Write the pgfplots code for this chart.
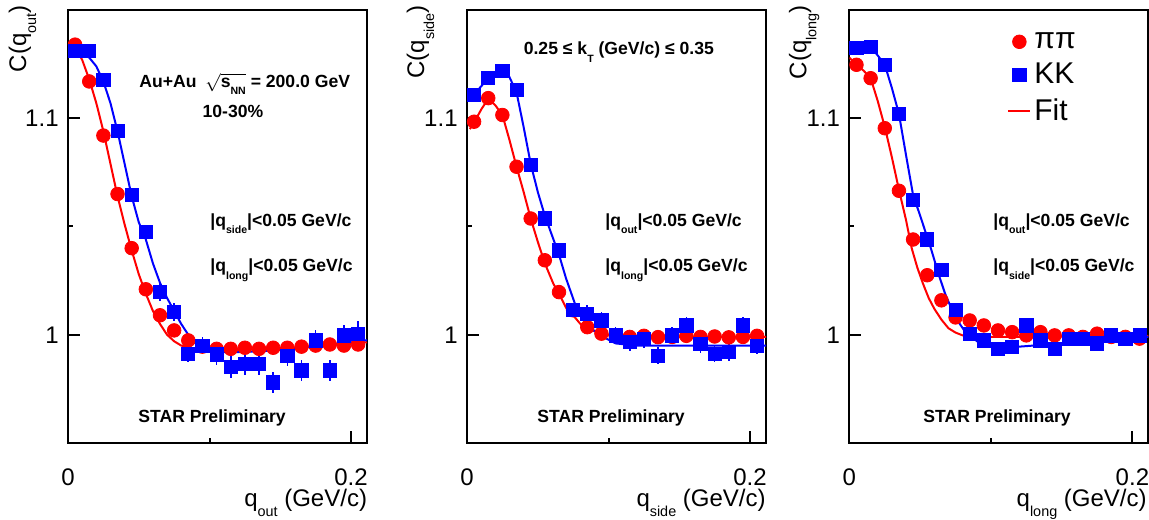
\documentclass[border=0pt]{standalone}
\usepackage{fontspec}
\setmainfont{Liberation Sans}
\usepackage{graphicx}
\usepackage{pgfplots}
\pgfplotsset{compat=1.18}
\newcommand\sub[1]{\raisebox{-0.42em}{\scalebox{0.6}{#1}}}
\pgfplotsset{
  starax/.style={
    scale only axis, width=149.5pt, height=216.5pt,
    xmin=0, xmax=0.2113, ymin=0.95, ymax=1.15,
    axis line style={line width=1pt},
    xtick={0,0.2}, xticklabels={0,0.2}, minor xtick={0.1},
    ytick={1,1.1}, yticklabels={1,1.1}, minor ytick={1.05},
    tick align=inside, xtick pos=bottom, ytick pos=left,
    major tick length=6pt, minor tick length=2.5pt,
    tick style={line width=1pt, black},
    ticklabel style={font=\fontsize{12}{14}\selectfont},
    xticklabel style={anchor=base, inner sep=0pt, yshift=-21.25pt},
    yticklabel style={anchor=east, inner sep=0pt, xshift=-4.5pt},
    /pgf/number format/assume math mode=true,
    anchor=south west,
  },
  ptsR/.style={only marks, mark=*, mark size=3.4pt, red, mark options={solid, fill=red, draw=red},
    error bars/.cd, y dir=both, y explicit, error mark=none, error bar style={red, line width=0.8pt}},
  ptsB/.style={only marks, mark=square*, mark size=3.3pt, blue, mark options={solid, fill=blue, draw=blue},
    error bars/.cd, y dir=both, y explicit, error mark=none, error bar style={blue, line width=0.8pt}},
  fitR/.style={red, line width=1pt, no marks},
  fitB/.style={blue, line width=1pt, no marks},
}
\begin{document}
\begin{tikzpicture}
\useasboundingbox (0,0) rectangle (574.5pt,259.5pt);
% ---------------- panel 1: q_out
\begin{axis}[starax, at={(34pt,38pt)}]
\addplot[fitR, forget plot] coordinates {(0,1.135)(0.005,1.133)(0.01,1.127)(0.015,1.118)(0.02,1.107)(0.025,1.094)(0.03,1.079)(0.035,1.064)(0.04,1.051)(0.045,1.039)(0.05,1.028)(0.055,1.019)(0.06,1.011)(0.065,1.005)(0.07,1.000)(0.075,0.997)(0.08,0.995)(0.09,0.9935)(0.1,0.993)(0.12,0.993)(0.14,0.9935)(0.16,0.994)(0.18,0.995)(0.2,0.996)(0.2113,0.9965)};
\addplot[fitB, forget plot] coordinates {(0,1.132)(0.005,1.131)(0.01,1.130)(0.015,1.128)(0.02,1.124)(0.025,1.117)(0.03,1.107)(0.035,1.094)(0.04,1.079)(0.045,1.064)(0.05,1.052)(0.055,1.044)(0.06,1.033)(0.065,1.024)(0.07,1.017)(0.075,1.011)(0.08,1.005)(0.085,1.000)(0.09,0.996)(0.095,0.994)(0.1,0.993)(0.11,0.992)(0.12,0.992)(0.14,0.9925)(0.16,0.9935)(0.18,0.995)(0.2,0.9965)(0.2113,0.9975)};
\addplot[ptsR] table[x=x, y=y, y error=e] {
x y e
0.005 1.134 0.003
0.015 1.117 0.003
0.025 1.092 0.003
0.035 1.065 0.003
0.045 1.040 0.003
0.055 1.021 0.002
0.065 1.009 0.002
0.075 1.002 0.002
0.085 0.9974 0.002
0.095 0.9945 0.002
0.105 0.9935 0.002
0.115 0.9935 0.002
0.125 0.994 0.002
0.135 0.9935 0.002
0.145 0.994 0.002
0.155 0.994 0.002
0.165 0.9945 0.002
0.175 0.995 0.002
0.185 0.9955 0.002
0.195 0.995 0.002
0.205 0.9955 0.002
};
\addplot[ptsB] table[x=x, y=y, y error=e] {
x y e
0.005 1.131 0.003
0.015 1.131 0.003
0.025 1.1177 0.003
0.035 1.094 0.003
0.045 1.0645 0.003
0.055 1.0475 0.003
0.065 1.0197 0.004
0.075 1.0105 0.004
0.085 0.9912 0.004
0.095 0.995 0.004
0.105 0.9909 0.005
0.115 0.985 0.005
0.125 0.9866 0.005
0.135 0.9866 0.005
0.145 0.978 0.005
0.155 0.9904 0.005
0.165 0.9835 0.005
0.175 0.9974 0.005
0.185 0.9835 0.005
0.195 0.9997 0.005
0.205 1.0005 0.006
};
\end{axis}
% ---------------- panel 2: q_side
\begin{axis}[starax, at={(233.5pt,38pt)}]
\addplot[fitR, forget plot] coordinates {(0.002,1.095)(0.005,1.098)(0.01,1.104)(0.015,1.109)(0.02,1.106)(0.025,1.1015)(0.03,1.090)(0.035,1.0776)(0.04,1.066)(0.045,1.0537)(0.05,1.043)(0.055,1.033)(0.061,1.0236)(0.065,1.019)(0.0704,1.012)(0.075,1.009)(0.081,1.0043)(0.0915,1.0012)(0.1,1.000)(0.11,0.9992)(0.13,0.999)(0.16,0.999)(0.19,0.999)(0.2113,0.999)};
\addplot[fitB, forget plot] coordinates {(0.002,1.110)(0.005,1.111)(0.015,1.1185)(0.025,1.122)(0.03,1.119)(0.035,1.112)(0.04,1.096)(0.045,1.079)(0.05,1.066)(0.055,1.055)(0.06,1.046)(0.065,1.037)(0.07,1.026)(0.0763,1.0143)(0.0846,1.0043)(0.0965,0.9989)(0.105,0.996)(0.12,0.995)(0.15,0.995)(0.18,0.995)(0.2113,0.995)};
\addplot[ptsR] table[x=x, y=y, y error=e] {
x y e
0.005 1.0984 0.003
0.015 1.1093 0.003
0.025 1.1015 0.003
0.035 1.0776 0.003
0.045 1.0537 0.003
0.055 1.0344 0.002
0.065 1.0197 0.002
0.075 1.0113 0.002
0.085 1.0035 0.002
0.095 1.0005 0.002
0.105 0.9995 0.002
0.115 0.9990 0.002
0.125 0.9995 0.002
0.135 0.9989 0.002
0.145 0.9990 0.002
0.155 0.9995 0.002
0.165 0.9990 0.002
0.175 0.9992 0.002
0.185 0.9988 0.002
0.195 0.9990 0.002
0.205 0.9995 0.002
};
\addplot[ptsB] table[x=x, y=y, y error=e] {
x y e
0.005 1.1108 0.003
0.015 1.1185 0.003
0.025 1.122 0.003
0.035 1.1131 0.003
0.045 1.0784 0.003
0.055 1.0537 0.003
0.065 1.039 0.003
0.075 1.0113 0.003
0.085 1.0097 0.004
0.095 1.0066 0.004
0.105 0.9997 0.004
0.115 0.9966 0.004
0.125 0.9981 0.004
0.135 0.9904 0.004
0.145 0.9997 0.004
0.155 1.0043 0.004
0.165 0.9958 0.004
0.175 0.9912 0.004
0.185 0.992 0.004
0.195 1.0043 0.004
0.205 0.995 0.004
};
\end{axis}
% ---------------- panel 3: q_long
\begin{axis}[starax, at={(424.7pt,38pt)},
  legend image code/.code={\draw[mark repeat=2,mark phase=2,#1] plot coordinates {(0pt,0pt) (5.5pt,0pt) (11pt,0pt)};},
  legend style={draw=none, fill=none, at={(0.527,0.843)}, anchor=west, inner sep=0pt,
    font=\fontsize{15}{17}\selectfont, row sep=3pt, nodes={inner sep=1.5pt}},
  legend cell align=left]
\addplot[ptsR] table[x=x, y=y, y error=e] {
x y e
0.005 1.1247 0.003
0.015 1.1185 0.003
0.025 1.0954 0.003
0.035 1.0665 0.003
0.045 1.044 0.003
0.055 1.0275 0.002
0.065 1.0159 0.002
0.075 1.008 0.002
0.085 1.0066 0.002
0.095 1.0043 0.002
0.105 1.002 0.002
0.115 1.0012 0.002
0.125 0.9997 0.002
0.135 1.0012 0.002
0.145 0.9997 0.002
0.155 0.9997 0.002
0.165 0.9990 0.002
0.175 1.0005 0.002
0.185 0.9990 0.002
0.195 0.9990 0.002
0.205 0.9982 0.002
};
\addlegendentry{ππ}
\addplot[ptsB] table[x=x, y=y, y error=e] {
x y e
0.005 1.1324 0.003
0.015 1.1331 0.003
0.025 1.1247 0.003
0.035 1.102 0.003
0.045 1.0622 0.003
0.055 1.044 0.003
0.065 1.0298 0.003
0.075 1.0113 0.003
0.085 1.0005 0.003
0.095 0.9974 0.003
0.105 0.9935 0.003
0.115 0.9943 0.003
0.125 1.0043 0.003
0.135 0.9974 0.003
0.145 0.9935 0.003
0.155 0.998 0.003
0.165 0.998 0.003
0.175 0.996 0.003
0.185 0.9997 0.003
0.195 0.998 0.003
0.205 0.9997 0.003
};
\addlegendentry{KK}
\addplot[fitR] coordinates {(0,1.128)(0.005,1.1247)(0.01,1.122)(0.015,1.1185)(0.02,1.108)(0.025,1.096)(0.03,1.082)(0.035,1.067)(0.04,1.053)(0.044,1.040)(0.048,1.031)(0.052,1.0236)(0.056,1.017)(0.06,1.012)(0.065,1.007)(0.07,1.003)(0.075,1.001)(0.08,0.9997)(0.09,0.999)(0.1,0.999)(0.13,0.999)(0.16,0.9992)(0.19,0.9995)(0.2113,0.9995)};
\addlegendentry{Fit}
\addplot[fitB, forget plot] coordinates {(0,1.133)(0.005,1.1324)(0.01,1.133)(0.015,1.1331)(0.02,1.129)(0.025,1.1247)(0.03,1.114)(0.035,1.102)(0.04,1.083)(0.045,1.0645)(0.05,1.055)(0.055,1.045)(0.058,1.039)(0.063,1.028)(0.0676,1.019)(0.0747,1.0081)(0.082,1.0012)(0.091,0.9966)(0.1,0.9947)(0.11,0.9942)(0.12,0.9945)(0.14,0.9955)(0.16,0.9965)(0.18,0.9975)(0.2,0.9985)(0.2113,0.999)};
\end{axis}
% ---------------- titles
\begin{scope}[every node/.style={font=\fontsize{12}{14}\selectfont, inner sep=0pt}]
\node[rotate=90, anchor=base east] at (13pt,257pt) {C(q\sub{out})};
\node[rotate=90, anchor=base east] at (212pt,257pt) {C(q\sub{side})};
\node[rotate=90, anchor=base east] at (403.2pt,257pt) {C(q\sub{long})};
\node[anchor=base east] at (183.7pt,6.2pt) {q\sub{out} (GeV/c)};
\node[anchor=base east] at (383pt,6.2pt) {q\sub{side} (GeV/c)};
\node[anchor=base east] at (573.5pt,6.2pt) {q\sub{long} (GeV/c)};
\end{scope}
\begin{scope}[every node/.style={font=\fontsize{8.8}{10}\selectfont\bfseries, inner sep=0pt, anchor=base west}]
\node at (69.5pt,215.8pt) {Au+Au\enspace$\sqrt{\vphantom{x}\smash{\mbox{s\sub{NN}}}}$ = 200.0 GeV};
\node[anchor=base] at (116.5pt,200.5pt) {10-30\%};
\node at (105pt,146.2pt) {|q\sub{side}|<0.05 GeV/c};
\node at (105pt,123.5pt) {|q\sub{long}|<0.05 GeV/c};
\node at (69pt,48.5pt) {STAR Preliminary};
\node at (261.7pt,232pt) {0.25 ≤ k\sub{T} (GeV/c) ≤ 0.35};
\node at (302.5pt,146.2pt) {|q\sub{out}|<0.05 GeV/c};
\node at (302.5pt,123.5pt) {|q\sub{long}|<0.05 GeV/c};
\node at (268.5pt,48.5pt) {STAR Preliminary};
\node at (496.5pt,146.2pt) {|q\sub{out}|<0.05 GeV/c};
\node at (496.5pt,123.5pt) {|q\sub{side}|<0.05 GeV/c};
\node at (461.5pt,48.5pt) {STAR Preliminary};
\end{scope}
\end{tikzpicture}
\end{document}
